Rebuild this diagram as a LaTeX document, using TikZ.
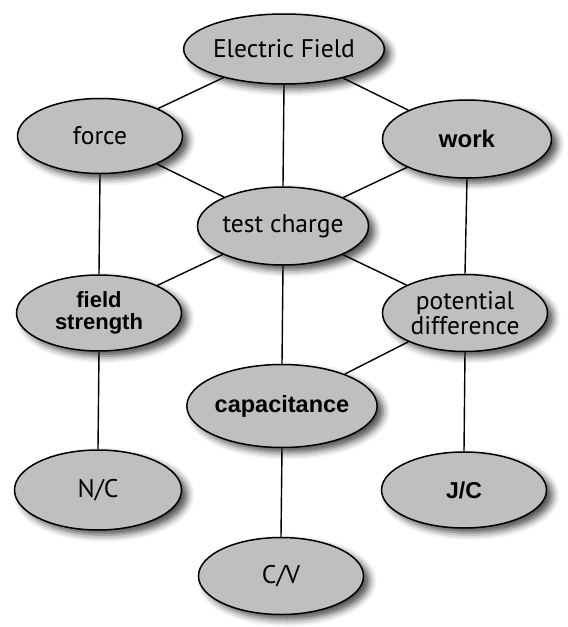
\documentclass[tikz,border=0pt]{standalone}
\usepackage{fontspec}
\setmainfont{PT Sans}
\newfontfamily\boldsans{Liberation Sans}[BoldFont={Liberation Sans Bold}]
\usetikzlibrary{shapes.geometric,shadows.blur}
\tikzset{
  concept/.style={ellipse, draw=black, line width=1.5pt, fill=gray!50,
    inner sep=0pt, minimum width=166pt, minimum height=77pt, align=center,
    font=\fontsize{25.5}{25}\selectfont,
    blur shadow={shadow xshift=6pt, shadow yshift=-5pt, shadow blur radius=7pt, shadow opacity=70}},
  boldconcept/.style={concept, font=\boldsans\bfseries\fontsize{22}{22.5}\selectfont},
  link/.style={draw=black, line width=1.4pt}
}
\begin{document}
\begin{tikzpicture}[x=1pt,y=-1pt]
\useasboundingbox (0,0) rectangle (568,627);
\node[concept, minimum width=185pt, minimum height=70pt] (ef) at (284,49) {Electric Field};
\node[concept, minimum width=165pt, minimum height=75pt] (force) at (100,136) {force};
\node[boldconcept, minimum width=169pt, minimum height=78pt, font=\boldsans\bfseries\fontsize{24}{24}\selectfont] (work) at (467,139) {work};
\node[concept, minimum width=165pt, minimum height=78pt] (tc) at (283,226) {test charge};
\node[boldconcept, minimum width=165pt, minimum height=76pt] (fs) at (99,313) {field\\strength};
\node[concept, minimum width=165pt, minimum height=77pt] (pd) at (465,313) {potential\\difference};
\node[boldconcept, minimum width=183pt, minimum height=83pt, font=\boldsans\bfseries\fontsize{23.5}{24}\selectfont] (cap) at (282,406) {capacitance};
\node[concept, minimum width=167pt, minimum height=80pt] (nc) at (98,490) {N/C};
\node[boldconcept, minimum width=165pt, minimum height=76pt, font=\boldsans\bfseries\fontsize{23}{24}\selectfont] (jc) at (464,490) {J/C};
\node[concept, minimum width=165pt, minimum height=77pt] (cv) at (281,576) {C/V};
\path[link] (ef) -- (force);
\path[link] (ef) -- (work);
\path[link] (ef.south) -- (tc.north);
\path[link] (force) -- (tc);
\path[link] (work) -- (tc);
\path[link] (force.south) -- (fs.north);
\path[link] (work.south) -- (pd.north);
\path[link] (tc) -- (fs);
\path[link] (tc) -- (pd);
\path[link] (tc.south) -- (cap.north);
\path[link] (pd) -- (cap);
\path[link] (fs.south) -- (nc.north);
\path[link] (pd.south) -- (jc.north);
\path[link] (cap.south) -- (cv.north);
\end{tikzpicture}
\end{document}
